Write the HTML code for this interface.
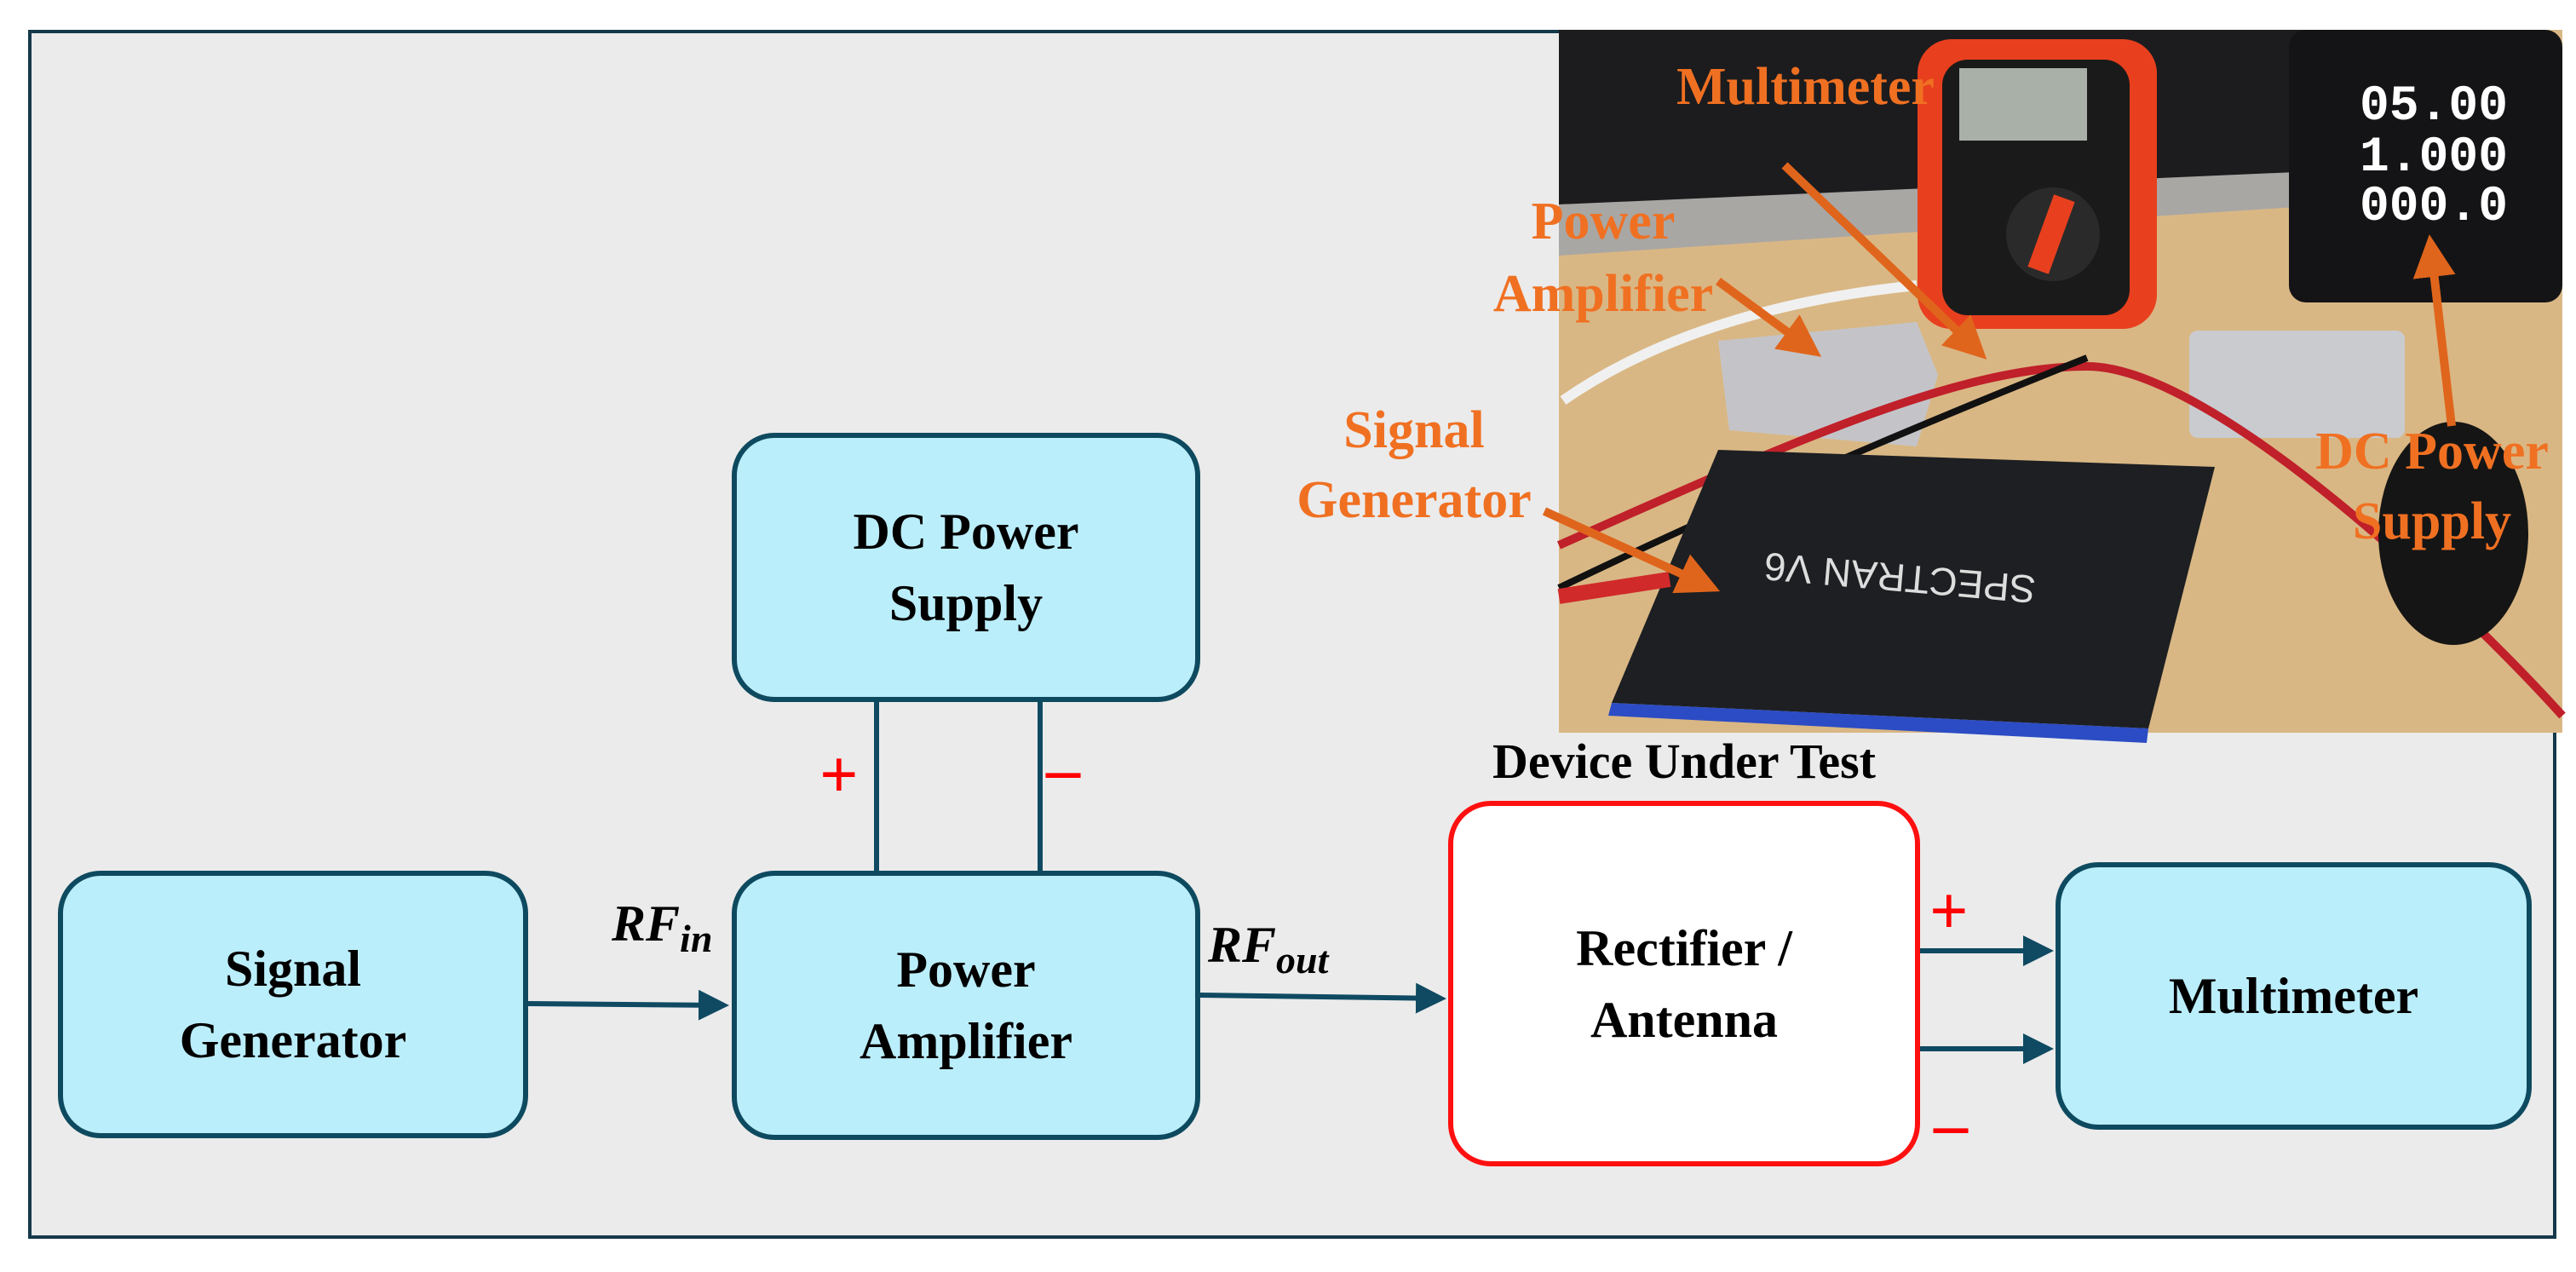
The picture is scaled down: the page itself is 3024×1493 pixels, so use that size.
<!DOCTYPE html>
<html><head><meta charset="utf-8"><style>
html,body{margin:0;padding:0;background:#fff}
body{width:3024px;height:1493px;position:relative;overflow:hidden;font-family:"Liberation Serif",serif}
.box{position:absolute;box-sizing:border-box;background:#bbeefb;border:6px solid #0e4a5f;border-radius:50px;display:flex;align-items:center;justify-content:center;text-align:center;font-weight:bold;font-size:60px;line-height:84px;color:#000}
.t{position:absolute;font-weight:bold;white-space:nowrap}
</style></head><body>
<div style="position:absolute;left:33px;top:35px;width:2968px;height:1419px;box-sizing:border-box;border:4px solid #15384a;background:#ebebeb"></div>

<svg style="position:absolute;left:0;top:0" width="3024" height="1493">
<defs><marker id="a" markerWidth="6" markerHeight="6" refX="5" refY="3" orient="auto" markerUnits="strokeWidth"><path d="M0,0 L6,3 L0,6 z" fill="#0f4a62"/></marker>
<marker id="o" markerWidth="5" markerHeight="5" refX="4" refY="2.5" orient="auto" markerUnits="strokeWidth"><path d="M0,0 L5,2.5 L0,5 z" fill="#e0651c"/></marker></defs>
<g stroke="#0f4a62" stroke-width="6" fill="none">
<line x1="1029" y1="824" x2="1029" y2="1022"/>
<line x1="1221" y1="824" x2="1221" y2="1022"/>
<line x1="620" y1="1178" x2="850" y2="1180" marker-end="url(#a)"/>
<line x1="1409" y1="1168" x2="1692" y2="1172" marker-end="url(#a)"/>
<line x1="2254" y1="1116" x2="2405" y2="1116" marker-end="url(#a)"/>
<line x1="2254" y1="1231" x2="2405" y2="1231" marker-end="url(#a)"/>
</g>
<!-- photo -->
<g>
<rect x="1830" y="35" width="1178" height="825" fill="#d9b784"/>
<polygon points="1830,35 2740,35 2740,215 1830,240" fill="#1c1c1e"/>
<polygon points="1830,240 2740,200 2740,240 1830,300" fill="#a9a7a4"/>
<rect x="2687" y="35" width="321" height="320" rx="20" fill="#141416"/>
<text x="2770" y="140" font-family="Liberation Mono" font-size="58" font-weight="bold" fill="#fff">05.00</text>
<text x="2770" y="200" font-family="Liberation Mono" font-size="58" font-weight="bold" fill="#fff">1.000</text>
<text x="2770" y="258" font-family="Liberation Mono" font-size="58" font-weight="bold" fill="#fff">000.0</text>
<rect x="2251" y="46" width="281" height="340" rx="40" fill="#e8401e"/>
<rect x="2280" y="70" width="220" height="300" rx="30" fill="#1a1a1a"/>
<rect x="2300" y="80" width="150" height="85" fill="#a8b0a8"/>
<circle cx="2410" cy="275" r="55" fill="#2a2a2a"/>
<rect x="2395" y="230" width="26" height="90" fill="#e8401e" transform="rotate(20 2408 275)"/>
<polygon points="2017,400 2250,378 2275,440 2250,524 2030,505" fill="#c4c4c8"/>
<rect x="2570" y="388" width="253" height="126" rx="10" fill="#c9cbcf"/>
<path d="M1835,470 C1950,390 2100,350 2250,335" stroke="#f0f0f0" stroke-width="12" fill="none"/>
<path d="M1830,640 C2100,520 2300,430 2450,430 S2900,720 3008,840" stroke="#c0202a" stroke-width="10" fill="none"/>
<path d="M1830,690 C2100,560 2350,460 2450,420" stroke="#111" stroke-width="8" fill="none"/>
<ellipse cx="2880" cy="626" rx="88" ry="131" fill="#151515"/>
<polygon points="2017,528 2600,548 2522,855 1892,825" fill="#1d1f22"/>
<polygon points="1892,825 2522,855 2520,872 1888,840" fill="#2b4cc4"/>
<text x="2130" y="695" font-family="Liberation Sans" font-size="46" fill="#ddd" transform="rotate(185 2260 680)">SPECTRAN V6</text>
<path d="M1830,700 L1960,680" stroke="#d02a2a" stroke-width="18"/>
</g>
<g stroke="#e0651c" stroke-width="10" fill="none">
<line x1="2095" y1="194" x2="2325" y2="415" marker-end="url(#o)"/>
<line x1="2017" y1="330" x2="2130" y2="413" marker-end="url(#o)"/>
<line x1="1813" y1="600" x2="2010" y2="690" marker-end="url(#o)"/>
<line x1="2878" y1="500" x2="2853" y2="285" marker-end="url(#o)"/>
</g>
<g font-family="Liberation Serif" font-weight="bold" font-size="62" fill="#f07022">
<text x="1968" y="122">Multimeter</text>
<text x="1882" y="280" text-anchor="middle">Power</text>
<text x="1882" y="365" text-anchor="middle">Amplifier</text>
<text x="1660" y="525" text-anchor="middle">Signal</text>
<text x="1660" y="607" text-anchor="middle">Generator</text>
<text x="2855" y="550" text-anchor="middle">DC Power</text>
<text x="2855" y="632" text-anchor="middle">Supply</text>
</g>
</svg>

<div class="box" style="left:859px;top:508px;width:550px;height:316px">DC Power<br>Supply</div>
<div class="box" style="left:68px;top:1022px;width:552px;height:314px">Signal<br>Generator</div>
<div class="box" style="left:859px;top:1022px;width:550px;height:316px">Power<br>Amplifier</div>
<div class="box" style="left:1700px;top:940px;width:554px;height:429px;background:#fff;border-color:#ff1010;border-width:6px">Rectifier /<br>Antenna</div>
<div class="box" style="left:2413px;top:1012px;width:559px;height:314px">Multimeter</div>

<div class="t" style="left:1700px;top:860px;width:554px;text-align:center;font-size:58px">Device Under Test</div>
<div class="t" style="left:718px;top:1050px;font-size:60px;font-style:italic">RF<sub style="font-size:46px">in</sub></div>
<div class="t" style="left:1418px;top:1075px;font-size:60px;font-style:italic">RF<sub style="font-size:46px">out</sub></div>
<div class="t" style="left:962px;top:865px;font-size:80px;color:#f00">+</div>
<div class="t" style="left:1228px;top:858px;font-size:80px;color:#f00">–</div>
<div class="t" style="left:2265px;top:1025px;font-size:80px;color:#f00">+</div>
<div class="t" style="left:2270px;top:1275px;font-size:80px;color:#f00">–</div>
</body></html>
